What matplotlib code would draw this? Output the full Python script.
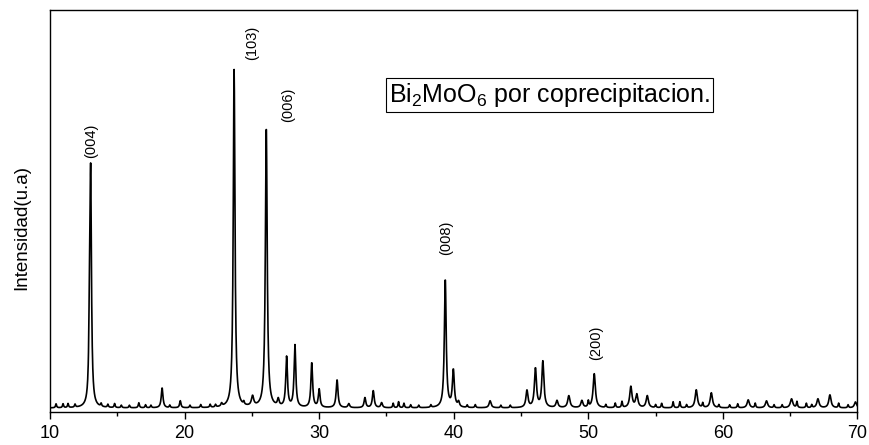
import numpy as np
import matplotlib.pyplot as plt

plt.rcParams['font.family'] = ['Liberation Sans', 'DejaVu Sans']
plt.rcParams['mathtext.fontset'] = 'custom'
plt.rcParams['mathtext.rm'] = 'Liberation Sans'
plt.rcParams['mathtext.it'] = 'Liberation Sans:italic'

# reflections: position (2theta), height (a.u.), fwhm (deg)
peak_pos = [12.93, 13.02, 16.6, 18.33, 19.68, 22.75, 23.68, 25.05, 26.07, 26.96,
            27.58, 28.2, 29.45, 30.0, 31.33, 32.2, 33.4, 34.02, 34.64, 39.37,
            39.97, 40.36, 42.7, 45.44, 46.07, 46.62, 47.67, 48.55, 49.52, 50.44,
            53.16, 53.6, 54.38, 58.02, 59.14, 61.88, 63.24, 65.1, 67.06, 67.95, 69.85]
peak_h = [55, 232, 5, 20, 7, 3, 338, 10, 282, 7,
          50, 62, 45, 18, 28, 4, 10, 17, 5, 129,
          37, 5, 7, 17, 39, 46, 7, 12, 7, 34,
          21, 13, 12, 18, 15, 8, 7, 9, 9, 13, 6]
peak_w = [0.10, 0.14, 0.10, 0.15, 0.12, 0.12, 0.15, 0.20, 0.16, 0.15,
          0.15, 0.15, 0.15, 0.15, 0.16, 0.15, 0.15, 0.16, 0.15, 0.16,
          0.17, 0.15, 0.18, 0.18, 0.18, 0.18, 0.18, 0.20, 0.18, 0.20,
          0.20, 0.20, 0.20, 0.20, 0.20, 0.20, 0.20, 0.22, 0.20, 0.20, 0.20]

# small wiggles of the background
bump_pos = [10.45, 10.97, 11.34, 11.86, 13.8, 14.3, 14.8, 15.3, 15.9, 17.1, 17.5,
            18.9, 20.4, 21.2, 21.9, 22.3, 24.4, 35.5, 35.9, 36.3, 36.8, 37.4, 38.3,
            41.0, 41.6, 43.5, 44.2, 50.0, 51.3, 52.0, 52.5, 55.0, 55.45, 56.3, 56.8,
            57.3, 58.5, 59.7, 60.5, 61.1, 62.4, 63.8, 64.4, 65.5, 66.2, 66.6, 68.6, 69.3]
bump_h = [4, 4, 4, 3, 3, 3, 4, 2.5, 2.5, 3, 2.5,
          2.5, 2.5, 3, 3, 2.5, 3, 4.5, 6, 4.5, 3, 2.5, 2.5,
          2.5, 3, 2.5, 2.5, 6, 3, 4.5, 6, 3, 4.5, 6, 6,
          3, 4.5, 3, 3, 4, 4.5, 3, 3, 6, 4.5, 3, 4.5, 3]
background = 4.0

labels = ['(004)', '(103)', '(006)', '(008)', '(200)']
label_x = [13.05, 25.0, 27.72, 39.47, 50.56]
label_y = [254, 352, 290, 157, 52]

tt = np.arange(10, 70.001, 0.02)
inten = np.full_like(tt, background)
for p, h, w in zip(peak_pos, peak_h, peak_w):
    inten += h / (1 + ((tt - p) / (w / 2)) ** 2)
for p, h in zip(bump_pos, bump_h):
    inten += h / (1 + ((tt - p) / 0.045) ** 2)

fig = plt.figure(figsize=(8.7, 4.45), dpi=100)
ax = fig.add_axes([50 / 870, 33 / 445, 807.5 / 870, 402 / 445])
ax.plot(tt, inten, color='k', lw=1.2)
ax.set_xlim(10, 70)
ax.set_ylim(0, 402)
ax.set_xticks(range(10, 71, 10))
ax.set_xticks(range(15, 70, 10), minor=True)
ax.set_yticks([])
ax.tick_params(axis='x', which='major', direction='out', length=5, width=1, labelsize=13, pad=4)
ax.tick_params(axis='x', which='minor', direction='out', length=3, width=1)
for s in ax.spines.values():
    s.set_linewidth(1.0)

for lab, x, y in zip(labels, label_x, label_y):
    ax.text(x, y, lab, rotation=90, ha='center', va='bottom', fontsize=10.5)

ax.text(0.619, 0.789, 'Bi$_2$MoO$_6$ por coprecipitacion.', transform=ax.transAxes,
        ha='center', va='center', fontsize=18,
        bbox=dict(boxstyle='square,pad=0.12', fc='white', ec='k', lw=0.8))

fig.text(22 / 870, 1 - 228 / 445, 'Intensidad(u.a)', rotation=90,
         ha='center', va='center', fontsize=13.5)

fig.savefig('out.png', dpi=100)
